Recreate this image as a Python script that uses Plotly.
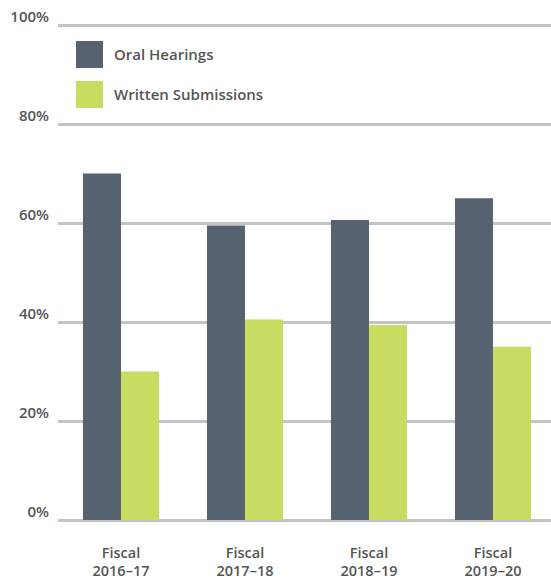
import plotly.graph_objects as go

# Share of appeals by hearing type, per fiscal year
categories = ["Fiscal<br>2016–17", "Fiscal<br>2017–18", "Fiscal<br>2018–19", "Fiscal<br>2019–20"]
series_names = ["Oral Hearings", "Written Submissions"]
oral_hearings = [70, 59.5, 60.6, 65]
written_submissions = [30, 40.5, 39.4, 35]
y_ticks = [0, 20, 40, 60, 80, 100]
y_tick_labels = ["0%", "20%", "40%", "60%", "80%", "100%"]

colors = ["#56626f", "#c8dc61"]
font_family = "Open Sans"
text_color = "#555555"

# plot area: 100% line at y=25 px, 0% line at y=520 px
top_px, bottom_px, fig_h = 22, 522, 579
px_per_unit = (520 - 25) / 100
y_lo = -(bottom_px - 520) / px_per_unit
y_hi = 100 + (25 - top_px) / px_per_unit

fig = go.Figure()
for name, values, color in zip(series_names, [oral_hearings, written_submissions], colors):
    fig.add_trace(go.Bar(
        x=categories, y=values, name=name,
        marker=dict(color=color, line=dict(width=0)),
        showlegend=False,
    ))

fig.update_layout(
    width=551, height=fig_h,
    margin=dict(l=58, r=0, t=top_px, b=fig_h - bottom_px),
    paper_bgcolor="white", plot_bgcolor="white",
    barmode="group", bargap=0.387, bargroupgap=0,
    font=dict(family=font_family, size=14, color=text_color),
    xaxis=dict(
        range=[-0.508, 3.468],
        showgrid=False, zeroline=False, showline=False, ticks="",
        tickfont=dict(family=font_family, size=14.5, color=text_color, weight=600),
        ticklabelstandoff=20,
    ),
    yaxis=dict(
        range=[y_lo, y_hi],
        tickvals=y_ticks, ticktext=y_tick_labels,
        showgrid=True, gridcolor="#c3c3c3", gridwidth=2.5,
        zeroline=False, showline=False, ticks="",
        tickfont=dict(family=font_family, size=15, color=text_color, weight=600),
        ticklabelstandoff=8, ticklabelshift=-8,
    ),
)

# Legend drawn as large swatches with labels
legend_rows = [0.0, 40.0]
plot_h = bottom_px - top_px
for name, color, dy in zip(series_names, colors, legend_rows):
    fig.add_shape(
        type="rect", xref="paper", yref="paper",
        x0=(76 - 58) / 493, x1=(103 - 58) / 493,
        y0=1 - (68 + dy - top_px) / plot_h, y1=1 - (41 + dy - top_px) / plot_h,
        fillcolor=color, line=dict(width=0), layer="above",
    )
    fig.add_annotation(
        xref="paper", yref="paper",
        x=(112 - 58) / 493, y=1 - (54 + dy - top_px) / plot_h,
        text=name, showarrow=False, xanchor="left", yanchor="middle",
        font=dict(family=font_family, size=15, color=text_color, weight=600),
    )

fig.write_html("out.html")
